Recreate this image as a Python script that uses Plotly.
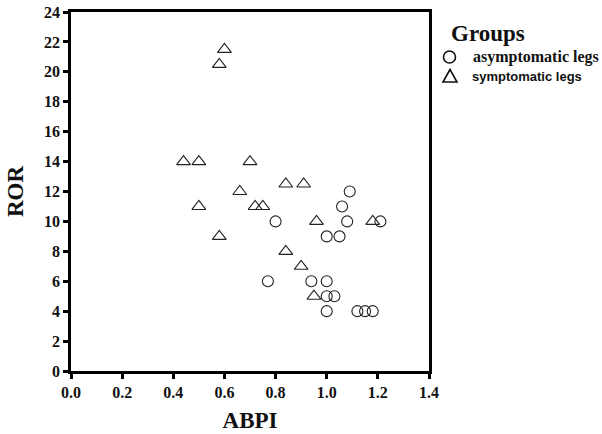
import plotly.graph_objects as go

# Data
asym_abpi = [0.80, 1.09, 1.06, 1.08, 1.21, 1.00, 1.05, 0.77, 0.94, 1.00, 1.00, 1.03, 1.00, 1.12, 1.15, 1.18]
asym_ror = [10, 12, 11, 10, 10, 9, 9, 6, 6, 6, 5, 5, 4, 4, 4, 4]

sym_abpi = [0.44, 0.50, 0.70, 0.58, 0.60, 0.66, 0.84, 0.91, 0.50, 0.72, 0.75, 0.58, 0.96, 1.18, 0.84, 0.90, 0.95]
sym_ror = [14, 14, 14, 20.5, 21.5, 12, 12.5, 12.5, 11, 11, 11, 9, 10, 10, 8, 7, 5]

x_ticks = [0.0, 0.2, 0.4, 0.6, 0.8, 1.0, 1.2, 1.4]
y_ticks = list(range(0, 25, 2))

legend_title = "Groups"
group_names = ["asymptomatic legs", "symptomatic legs"]

SERIF = "Liberation Serif"
SANS = "Arial"

W, H = 602, 434
ML, MR, MT, MB = 71, 173, 12, 63
PW, PH = W - ML - MR, H - MT - MB


def px_x(p):
    return (p - ML) / PW


def px_y(p):
    return (H - MB - p) / PH


fig = go.Figure()
fig.add_trace(go.Scatter(
    x=asym_abpi, y=asym_ror, mode="markers", name=group_names[0], showlegend=False,
    marker=dict(symbol="circle-open", size=11, color="#222", line=dict(width=1.1)),
))
fig.add_trace(go.Scatter(
    x=sym_abpi, y=sym_ror, mode="markers", name=group_names[1], showlegend=False,
    marker=dict(symbol="triangle-up-open", size=12, color="#222", line=dict(width=1.1)),
))

axis_common = dict(
    showline=True, linecolor="black", linewidth=2.5, mirror=True,
    ticks="outside", ticklen=5, tickwidth=2.5, tickcolor="black",
    showgrid=False, zeroline=False, automargin=False,
    tickfont=dict(family=SERIF, size=16, color="#111"),
)

fig.update_xaxes(
    range=[0, 1.4], tickvals=x_ticks, ticktext=[f"<b>{v:.1f}</b>" for v in x_ticks],
    title=dict(text="<b>ABPI</b>", font=dict(family=SERIF, size=23, color="#111"), standoff=12),
    **axis_common,
)
fig.update_yaxes(
    range=[0, 24], tickvals=y_ticks, ticktext=[f"<b>{v}</b>" for v in y_ticks],
    title=dict(text="<b>ROR</b>", font=dict(family=SERIF, size=23, color="#111"), standoff=14),
    **axis_common,
)

# Legend (drawn manually to match the reference layout)
annotations = [
    dict(text=f"<b>{legend_title}</b>", x=px_x(450), y=px_y(33), xanchor="left", yanchor="middle",
         font=dict(family=SERIF, size=23, color="#111")),
    dict(text=f"<b>{group_names[0]}</b>", x=px_x(472), y=px_y(57), xanchor="left", yanchor="middle",
         font=dict(family=SERIF, size=16, color="#111")),
    dict(text=f"<b>{group_names[1]}</b>", x=px_x(471), y=px_y(76), xanchor="left", yanchor="middle",
         font=dict(family=SANS, size=13, color="#111")),
]
for a in annotations:
    a.update(xref="paper", yref="paper", showarrow=False, borderpad=0)

key_line = dict(color="#111", width=1.6)
shapes = [
    dict(type="circle", xref="paper", yref="paper",
         x0=px_x(443.5), x1=px_x(455.5), y0=px_y(63), y1=px_y(51), line=key_line),
    dict(type="path", xref="paper", yref="paper",
         path=(f"M {px_x(443)} {px_y(82)} L {px_x(457)} {px_y(82)} "
               f"L {px_x(450)} {px_y(69.5)} Z"),
         line=key_line),
]

fig.update_layout(
    width=W, height=H,
    margin=dict(l=ML, r=MR, t=MT, b=MB),
    plot_bgcolor="white", paper_bgcolor="white",
    showlegend=False,
    annotations=annotations,
    shapes=shapes,
)

fig.write_html("out.html", config={"displayModeBar": False},
               post_script="document.body.style.margin='0px';")
